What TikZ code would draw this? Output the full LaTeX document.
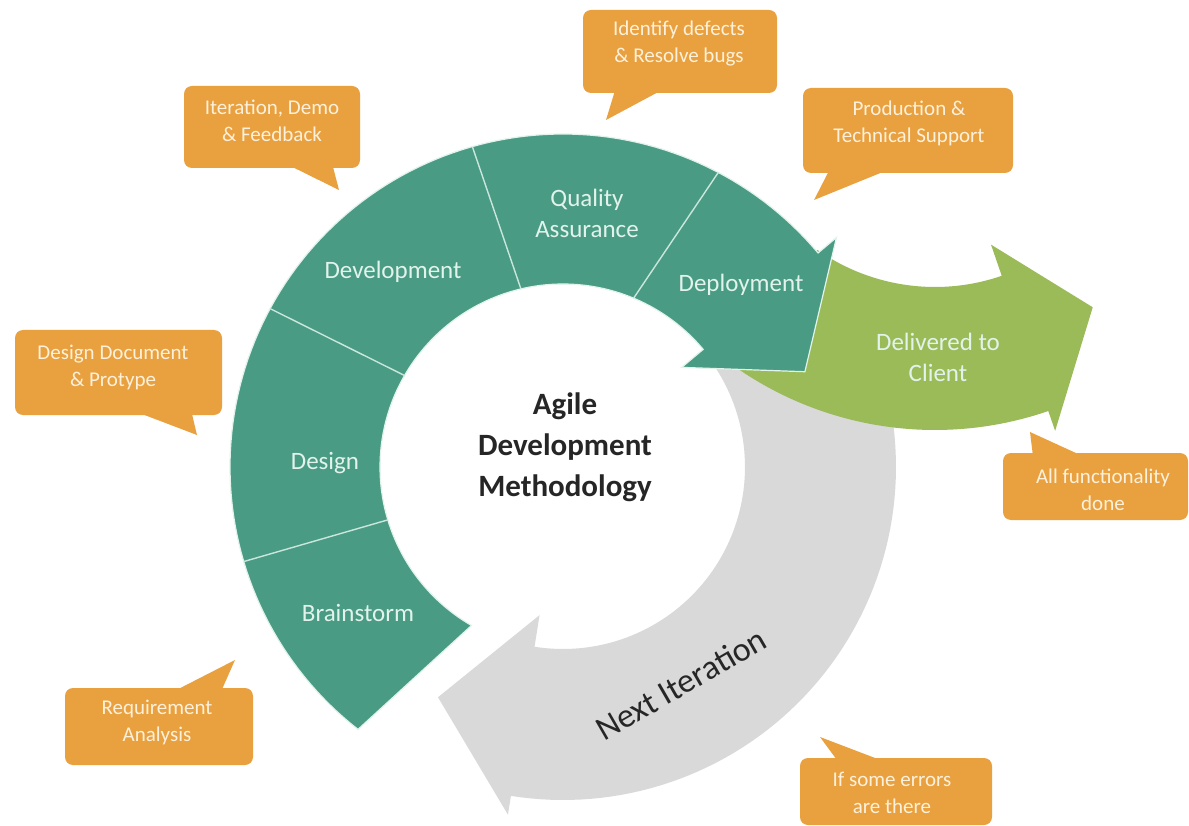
\documentclass[tikz,border=0pt]{standalone}
\usepackage{fontspec}
\setmainfont{Carlito}
\usetikzlibrary{calc}
\definecolor{teal1}{HTML}{4A9B84}
\definecolor{olive1}{HTML}{9BBB59}
\definecolor{gray1}{HTML}{D9D9D9}
\definecolor{orange1}{HTML}{E9A03F}
\definecolor{mint}{HTML}{E2F3EC}
\definecolor{cream}{HTML}{FDF1DC}
\definecolor{ink}{HTML}{262626}
\begin{document}
\begin{tikzpicture}[x=1pt,y=-1pt,
  callout/.style={fill=orange1, rounded corners=8pt, inner sep=0pt},
  ctext/.style={text=cream, align=center, font=\fontsize{21}{27}\selectfont},
  seglabel/.style={text=mint, align=center, font=\fontsize{25}{31}\selectfont},
  divider/.style={draw=mint!85!teal1, line width=1.4pt},
  pointer/.style={fill=orange1}
]
\fill[white] (0,0) rectangle (1189,826);
\useasboundingbox (0,0) rectangle (1189,826);
\coordinate (C) at (563,467);
\coordinate (G) at (935,82);

% gray "Next Iteration" arrow
\fill[gray1] plot[domain=-38:99, samples=80, variable=\t] ({563+333*cos(\t)},{467+333*sin(\t)})
  -- ($(C)+(99:352)$) -- ($(C)+(118.5:262)$) -- ($(C)+(99:150)$)
  -- plot[domain=99:-38, samples=80, variable=\t] ({563+182*cos(\t)},{467+182*sin(\t)}) -- cycle;

% green "Delivered to Client" arrow
\fill[olive1] plot[domain=125:71, samples=60, variable=\t] ({935+348*cos(\t)},{82+348*sin(\t)})
  -- ($(G)+(71:369)$) -- ($(G)+(55:275)$) -- ($(G)+(71:172)$)
  -- plot[domain=71:125, samples=60, variable=\t] ({935+205*cos(\t)},{82+205*sin(\t)}) -- cycle;

% teal process arrow
\filldraw[fill=teal1, draw=mint, line width=1.2pt, line join=miter]
  plot[domain=128:320, samples=120, variable=\t] ({563+333*cos(\t)},{467+333*sin(\t)})
  -- ($(C)+(320:357)$) -- ($(C)+(338.5:260)$) -- ($(C)+(320:155)$)
  -- plot[domain=320:120, samples=120, variable=\t] ({563+183*cos(\t)},{467+183*sin(\t)}) -- cycle;

% dividers
\draw[divider] ($(C)+(163.2:183)$) -- ($(C)+(163.5:333)$);
\draw[divider] ($(C)+(210:183)$) -- ($(C)+(208.4:333)$);
\draw[divider] ($(C)+(256.7:183)$) -- ($(C)+(254.2:333)$);
\draw[divider] ($(C)+(292.7:183)$) -- ($(C)+(297.8:333)$);

% segment labels
\node[seglabel] (brainstorm) at (358,613) {Brainstorm};
\node[seglabel] (design) at (325,463) {Design};
\node[seglabel] (development) at (393,272) {Development};
\node[seglabel] (qa) at (587,213) {Quality\\Assurance};
\node[seglabel] (deployment) at (741,285) {Deployment};
\node[seglabel] (delivered) at (938,357) {Delivered to\\Client};

\node[text=ink, align=center, font=\bfseries\fontsize{31}{41}\selectfont] (title) at (565,447) {Agile\\Development\\Methodology};
\node[text=ink, rotate=30, font=\fontsize{34}{40}\selectfont] (next) at (681,684) {Next Iteration};

% callout 1
\node[callout, minimum width=176pt, minimum height=82pt] (c1box) at (272,127) {};
\coordinate (c1tip) at (339,190);
\fill[pointer] ([xshift=107pt,yshift=2pt]c1box.south west) -- (c1tip) -- ([xshift=149pt,yshift=2pt]c1box.south west) -- cycle;
\node[ctext] (c1) at (272,121) {Iteration, Demo\\\& Feedback};

% callout 2
\node[callout, minimum width=194pt, minimum height=83pt] (c2box) at (680,51.5) {};
\coordinate (c2tip) at (606,120);
\fill[pointer] ([xshift=32pt,yshift=2pt]c2box.south west) -- (c2tip) -- ([xshift=77pt,yshift=2pt]c2box.south west) -- cycle;
\node[ctext] (c2) at (679,44) {Identify defects\\\& Resolve bugs};

% callout 3
\node[callout, minimum width=210pt, minimum height=85pt] (c3box) at (908,130.5) {};
\coordinate (c3tip) at (814,200);
\fill[pointer] ([xshift=26pt,yshift=2pt]c3box.south west) -- (c3tip) -- ([xshift=82pt,yshift=2pt]c3box.south west) -- cycle;
\node[ctext] (c3) at (909,123) {Production \&\\Technical Support};

% callout 4
\node[callout, minimum width=207pt, minimum height=85pt] (c4box) at (118.5,372.5) {};
\coordinate (c4tip) at (197,435);
\fill[pointer] ([xshift=125pt,yshift=2pt]c4box.south west) -- (c4tip) -- ([xshift=177pt,yshift=2pt]c4box.south west) -- cycle;
\node[ctext] (c4) at (113,367) {Design Document\\\& Protype};

% callout 5
\node[callout, minimum width=188pt, minimum height=77pt] (c5box) at (159,726.5) {};
\coordinate (c5tip) at (235,660);
\fill[pointer] ([xshift=112pt,yshift=-2pt]c5box.north west) -- (c5tip) -- ([xshift=157pt,yshift=-2pt]c5box.north west) -- cycle;
\node[ctext] (c5) at (157,722) {Requirement\\Analysis};

% callout 6
\node[callout, minimum width=185pt, minimum height=67pt] (c6box) at (1095.5,486.5) {};
\coordinate (c6tip) at (1030,432);
\fill[pointer] ([xshift=30pt,yshift=-2pt]c6box.north west) -- (c6tip) -- ([xshift=77pt,yshift=-2pt]c6box.north west) -- cycle;
\node[ctext] (c6) at (1103,490) {All functionality\\done};

% callout 7
\node[callout, minimum width=192pt, minimum height=67pt] (c7box) at (896,791.5) {};
\coordinate (c7tip) at (820,737);
\fill[pointer] ([xshift=37pt,yshift=-2pt]c7box.north west) -- (c7tip) -- ([xshift=80pt,yshift=-2pt]c7box.north west) -- cycle;
\node[ctext] (c7) at (892,793) {If some errors\\are there};
\end{tikzpicture}
\end{document}
